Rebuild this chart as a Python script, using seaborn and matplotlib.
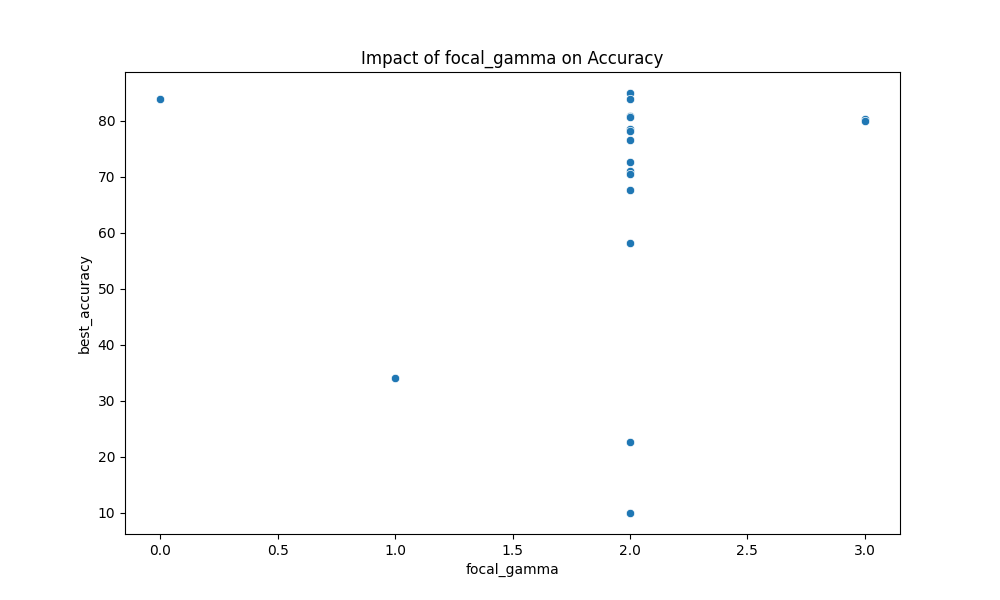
import matplotlib
matplotlib.use("Agg")
import matplotlib.pyplot as plt
import seaborn as sns
import pandas as pd

focal_gamma = [0.0, 1.0, 2, 2, 2, 2, 2, 2, 2, 2, 2, 2, 2, 2, 2, 2, 3.0, 3.0]
best_accuracy = [83.9, 34.1, 85.0, 83.9, 80.9, 80.7, 78.6, 78.2, 76.6, 72.7, 71.1, 70.6,
                 67.7, 58.2, 22.7, 10.0, 80.4, 80.0]

df = pd.DataFrame({"focal_gamma": focal_gamma, "best_accuracy": best_accuracy})
fig, ax = plt.subplots(figsize=(10, 6), dpi=100)
sns.scatterplot(data=df, x="focal_gamma", y="best_accuracy", ax=ax)
ax.set_title("Impact of focal_gamma on Accuracy")
fig.savefig("out.png")
